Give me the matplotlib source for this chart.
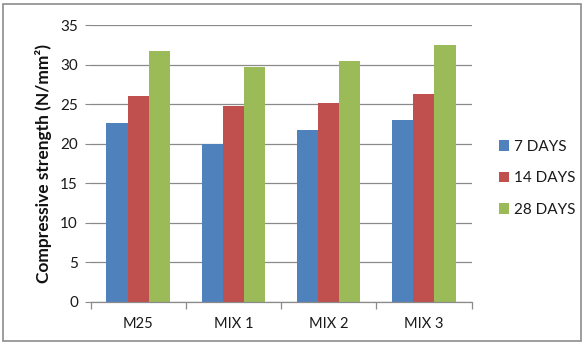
import matplotlib
matplotlib.use("Agg")
import matplotlib.pyplot as plt
from matplotlib.patches import Rectangle
import numpy as np

categories = ["M25", "MIX 1", "MIX 2", "MIX 3"]
series_names = ["7 DAYS", "14 DAYS", "28 DAYS"]
days7 = [22.6, 20.0, 21.8, 23.0]
days14 = [26.0, 24.8, 25.2, 26.3]
days28 = [31.8, 29.75, 30.5, 32.5]
colors = ["#4F81BD", "#C0504D", "#9BBB59"]
y_ticks = [0, 5, 10, 15, 20, 25, 30, 35]

plt.rcParams['font.family'] = ['Lato', 'DejaVu Sans']

W, H = 584, 345
fig = plt.figure(figsize=(W / 100, H / 100), dpi=100)
fig.patch.set_facecolor("white")

# outer chart border
fig.patches.append(Rectangle((3 / W, 4 / H), 578 / W, 337 / H, transform=fig.transFigure,
                             fill=False, edgecolor="#8c8c8c", linewidth=1.2))

ax_l, ax_r = 90.5 / W, 471.5 / W
ax_top, ax_bot = 25.3 / H, 301.7 / H
ax = fig.add_axes([ax_l, 1 - ax_bot, ax_r - ax_l, ax_bot - ax_top])

x = np.arange(len(categories))
bw = 1 / 4.5
for i, (vals, name) in enumerate(zip([days7, days14, days28], series_names)):
    ax.bar(x + (i - 1) * bw, vals, width=bw, color=colors[i], label=name, zorder=3)

ax.set_xlim(-0.5, len(categories) - 0.5)
ax.set_ylim(0, 35)
ax.set_yticks(y_ticks)
ax.set_yticklabels([str(t) for t in y_ticks], fontsize=11, color="#1a1a1a")
ax.yaxis.grid(True, color="#8a8a8a", linewidth=0.9, zorder=0)
ax.tick_params(axis="y", length=4, color="#8a8a8a", pad=5)

for s in ["top", "right", "left"]:
    ax.spines[s].set_visible(False)
ax.spines["bottom"].set_color("#8a8a8a")
ax.spines["bottom"].set_linewidth(0.9)
ax.spines["bottom"].set_zorder(4)

# category labels centred, tick marks at category boundaries
ax.set_xticks(x)
ax.set_xticklabels(categories, fontsize=10.5, color="#1a1a1a")
ax.tick_params(axis="x", length=0, pad=11)
ax.set_xticks(np.arange(len(categories) + 1) - 0.5, minor=True)
ax.tick_params(axis="x", which="minor", length=5, color="#8a8a8a", width=0.9)

ax.set_ylabel("Compressive strength (N/mm²)", fontsize=12.5, fontweight="bold",
              color="#111111", labelpad=6)

leg = fig.legend(loc="upper left", bbox_to_anchor=(491 / W, 1 - 132 / H),
                 frameon=False, fontsize=11, handlelength=0.7, handleheight=0.7,
                 handletextpad=0.3, labelspacing=1.15, borderpad=0)
for t in leg.get_texts():
    t.set_color("#1a1a1a")

fig.savefig("out.png", dpi=100, facecolor="white")
